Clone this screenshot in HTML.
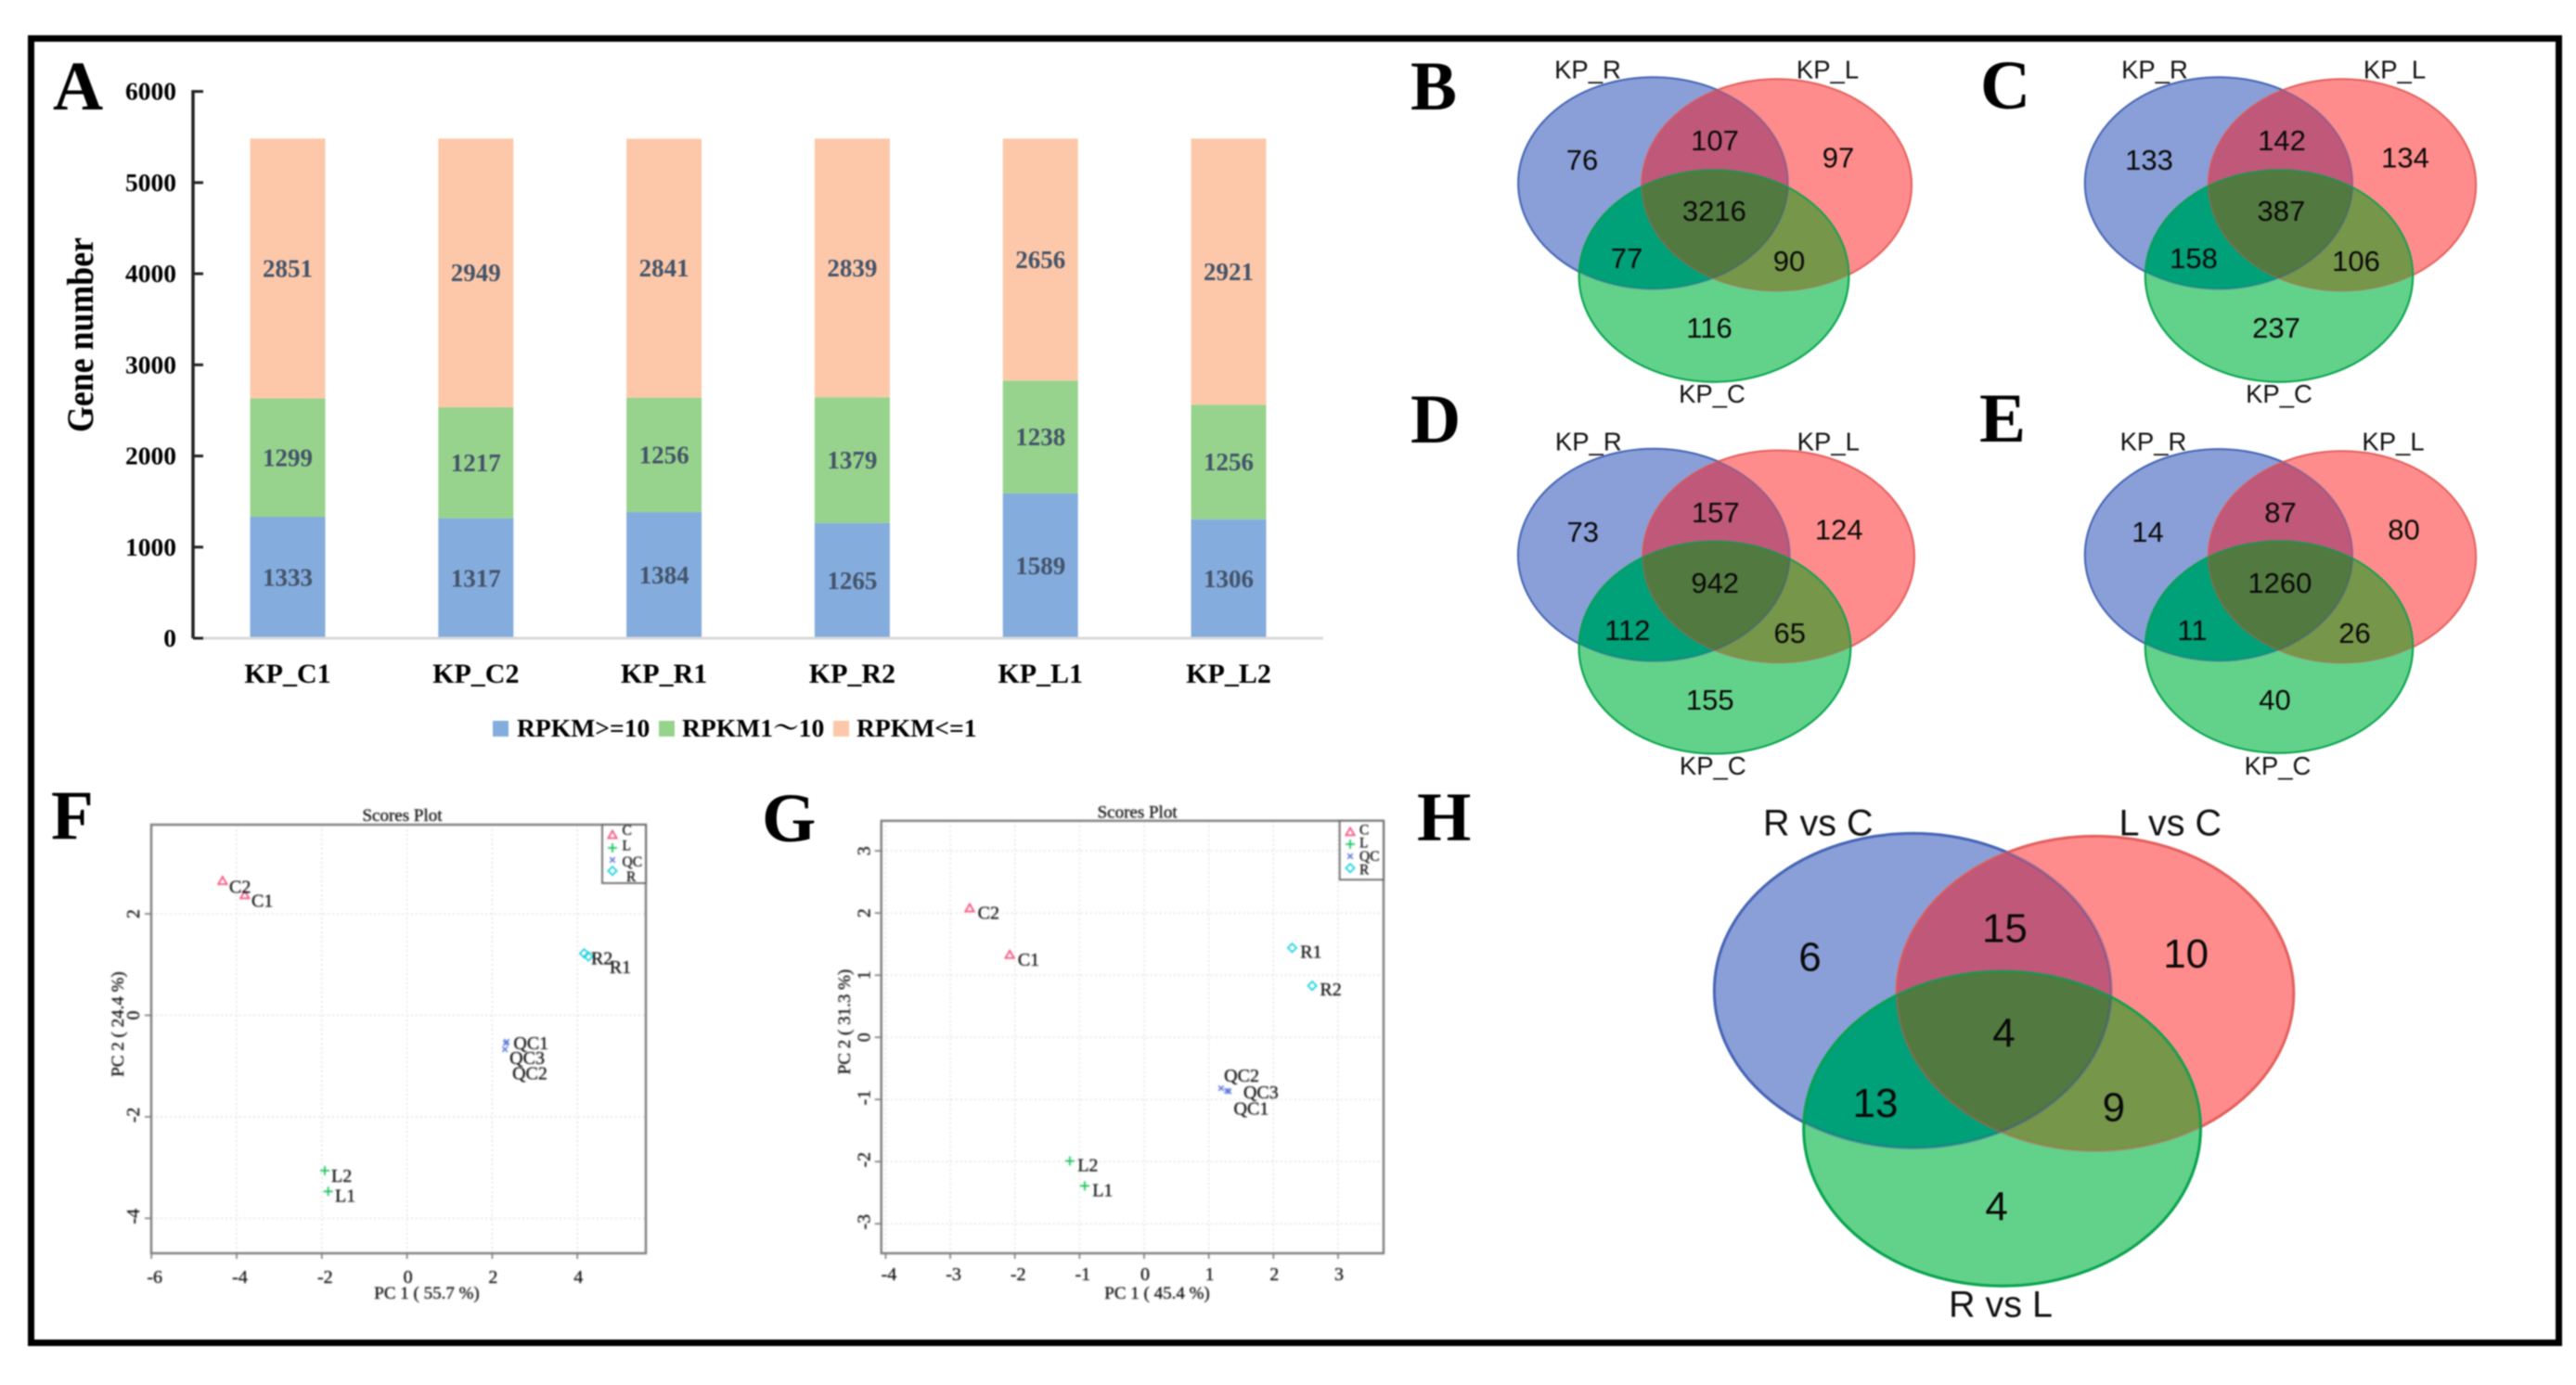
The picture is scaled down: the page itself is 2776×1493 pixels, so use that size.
<!DOCTYPE html>
<html lang="en">
<head>
<meta charset="utf-8">
<title>Gene expression, Venn diagrams and PCA score plots</title>
<style>
html,body{margin:0;padding:0;background:#fff;width:2776px;height:1493px;overflow:hidden}
#figure{display:block;filter:blur(0.7px)}
#panel-scatter{filter:blur(0.6px)}
text{font-family:"Liberation Serif","Noto Serif CJK SC",serif}
.sans{font-family:"Liberation Sans","Noto Sans CJK SC",sans-serif}
</style>
</head>
<body>
<svg id="figure" xmlns="http://www.w3.org/2000/svg" width="2776" height="1493" viewBox="0 0 2776 1493">
  <rect x="0" y="0" width="2776" height="1493" fill="#fff"/>
  <rect x="33.5" y="41.5" width="2724" height="1406" fill="none" stroke="#000" stroke-width="7"/>
  <defs id="defs"></defs>
  <text x="57" y="118" font-size="75" font-weight="bold">A</text>
  <text x="1520" y="118" font-size="75" font-weight="bold">B</text>
  <text x="2134" y="117" font-size="75" font-weight="bold">C</text>
  <text x="1520" y="477" font-size="75" font-weight="bold">D</text>
  <text x="2133" y="476" font-size="75" font-weight="bold">E</text>
  <text x="55" y="904" font-size="75" font-weight="bold">F</text>
  <text x="821" y="907" font-size="75" font-weight="bold">G</text>
  <text x="1527" y="906" font-size="75" font-weight="bold">H</text>
  <g id="panel-a"></g>
  <g id="panel-venn"></g>
  <g id="panel-scatter"></g>
</svg>
<script>
// ---- Panel A data ----
const barCategories = ['KP_C1','KP_C2','KP_R1','KP_R2','KP_L1','KP_L2'];
const rpkmHigh = [1333,1317,1384,1265,1589,1306];
const rpkmMid = [1299,1217,1256,1379,1238,1256];
const rpkmLow = [2851,2949,2841,2839,2656,2921];
const barYTicks = [0,1000,2000,3000,4000,5000,6000];
const barLegendLabels = ['RPKM>=10','RPKM1～10','RPKM<=1'];

// ---- Venn data: R only, R∩L, L only, all, R∩C, L∩C, C only ----
const vennCountsB = [76,107,97,3216,77,90,116];
const vennCountsC = [133,142,134,387,158,106,237];
const vennCountsD = [73,157,124,942,112,65,155];
const vennCountsE = [14,87,80,1260,11,26,40];
const vennCountsH = [6,15,10,4,13,9,4];
const vennSetsKP = ['KP_R','KP_L','KP_C'];
const vennSetsH = ['R vs C','L vs C','R vs L'];

// ---- Score plot data ----
const sampleNames = ['C1','C2','L1','L2','QC1','QC2','QC3','R1','R2'];
const sampleGroups = ['C','C','L','L','QC','QC','QC','R','R'];
const legendGroups = ['C','L','QC','R'];
const fPc1 = [-3.81,-4.33,-1.85,-1.93,2.34,2.32,2.30,4.26,4.16];
const fPc2 = [2.36,2.64,-3.47,-3.06,-0.52,-0.55,-0.67,1.16,1.22];
const fXTicks = [-6,-4,-2,0,2,4];
const fYTicks = [-4,-2,0,2];
const gPc1 = [-2.08,-2.70,-0.92,-1.15,1.28,1.19,1.31,2.29,2.60];
const gPc2 = [1.32,2.07,-2.39,-1.99,-0.86,-0.82,-0.87,1.44,0.83];
const gXTicks = [-4,-3,-2,-1,0,1,2,3];
const gYTicks = [-3,-2,-1,0,1,2,3];

const NS = 'http://www.w3.org/2000/svg';
function el(tag, attrs, parent, text) {
  const e = document.createElementNS(NS, tag);
  for (const k in attrs) e.setAttribute(k, attrs[k]);
  if (text !== undefined) e.textContent = text;
  parent.appendChild(e);
  return e;
}

// ================= Panel A =================
(function () {
  const root = document.getElementById('panel-a');
  const y = v => 688 - v * (589.4 / 6000);
  const x = i => 310 + i * 202.8;
  const barW = 81;
  const colors = ['#84acdd', '#97d38c', '#fdc8a9'];
  const layers = [rpkmHigh, rpkmMid, rpkmLow];
  const layerNames = ['high', 'mid', 'low'];

  barCategories.forEach((cat, i) => {
    let base = 0;
    layers.forEach((series, s) => {
      const v = series[i];
      const r = el('rect', {x: x(i) - barW / 2, y: y(base + v), width: barW, height: y(base) - y(base + v), fill: colors[s]}, root);
      
      
      const t = el('text', {x: x(i), y: y(base + v / 2) + 9, 'text-anchor': 'middle', 'font-size': 27, 'font-weight': 'bold', fill: '#44546a'}, root, String(v));
      
      
      base += v;
    });
    const xl = el('text', {x: x(i), y: 736, 'text-anchor': 'middle', 'font-size': 30, 'font-weight': 'bold'}, root, cat);
    
    
  });

  const baseLine = el('line', {x1: 208, x2: 1426, y1: y(0), y2: y(0), stroke: '#d9d9d9', 'stroke-width': 3}, root);
  
  
  const yLine = el('line', {x1: 208, x2: 208, y1: y(6000) - 1.5, y2: y(0), stroke: '#222', 'stroke-width': 3.5}, root);
  
  

  barYTicks.forEach(v => {
    const tick = el('line', {x1: 208, x2: 219, y1: y(v), y2: y(v), stroke: '#222', 'stroke-width': 3}, root);
    
    
    const lab = el('text', {x: 190, y: y(v) + 9, 'text-anchor': 'end', 'font-size': 27.5, 'font-weight': 'bold'}, root, String(v));
    
    
  });

  const yTitle = el('text', {x: 0, y: 0, transform: 'translate(100,361) rotate(-90)', 'text-anchor': 'middle', 'font-size': 40, 'font-weight': 'bold', textLength: 210, lengthAdjust: 'spacingAndGlyphs'}, root, 'Gene number');
  
  

  const legendSwatchX = [531, 710, 898];
  const legendTextX = [557, 735, 923];
  barLegendLabels.forEach((label, i) => {
    const sw = el('rect', {x: legendSwatchX[i], y: 777, width: 17, height: 17, fill: colors[i]}, root);
    
    
    const lt = el('text', {x: legendTextX[i], y: 794, 'font-size': 27.6, 'font-weight': 'bold'}, root, label);
    
    
  });
})();

// ================= Venn panels =================
(function () {
  const root = document.getElementById('panel-venn');
  const defs = document.getElementById('defs');
  // text anchor offsets from the blue ellipse centre at unit scale
  const regionDx = [-76.5, 66.5, 199.5, 65.9, -28.5, 146.5, 60.5];
  const regionDy = [-14.4, -35.4, -16.9, 40.6, 91.6, 94.6, 166.6];
  const setDx = [-70.5, 188, 63.5];
  const setDy = [-112.8, -112.8, 236.6];

  function venn(id, counts, sets, g) {
    const grp = el('g', {}, root);
    
    
    const shape = (c, extra) => Object.assign({cx: c[0], cy: c[1], rx: g.rx, ry: g.ry}, extra);

    const cb = el('clipPath', {id: 'clip-blue-' + id}, defs);
    el('ellipse', shape(g.b, {}), cb);
    const cr = el('clipPath', {id: 'clip-red-' + id}, defs);
    el('ellipse', shape(g.r, {}), cr);

    const fills = [
      [g.b, '#8a9fd8', '#4f73c6', 'set-r'], [g.r, '#ff8c8c', '#f26666', 'set-l'], [g.g, '#62d28a', '#0cb45c', 'set-c']
    ];
    fills.forEach(f => {
      const e = el('ellipse', shape(f[0], {fill: f[1], stroke: f[2], 'stroke-width': g.sw}), grp);
      
      
    });
    const rb = el('ellipse', shape(g.r, {fill: '#c0587a', 'clip-path': 'url(#clip-blue-' + id + ')'}), grp);
    
    
    const gb = el('ellipse', shape(g.g, {fill: '#00a078', 'clip-path': 'url(#clip-blue-' + id + ')'}), grp);
    
    
    const gr = el('ellipse', shape(g.g, {fill: '#76964a', 'clip-path': 'url(#clip-red-' + id + ')'}), grp);
    
    
    const inner = el('g', {'clip-path': 'url(#clip-blue-' + id + ')'}, grp);
    
    
    const ctr = el('ellipse', shape(g.g, {fill: '#52793f', 'clip-path': 'url(#clip-red-' + id + ')'}), inner);
    
    

    const strokes = [[g.b, '#3a4f9a', 0.4], [g.r, '#c85a50', 0.35], [g.g, '#0a9c4c', 0.7]];
    strokes.forEach(s => {
      const o = el('ellipse', shape(s[0], {fill: 'none', stroke: s[1], 'stroke-opacity': s[2], 'stroke-width': g.sw}), grp);
      
      
    });

    counts.forEach((n, i) => {
      const t = el('text', {class: 'sans', x: g.b[0] + g.tdx + regionDx[i] * g.sx, y: g.b[1] + regionDy[i] * g.sy, 'text-anchor': 'middle', 'font-size': g.fs, fill: '#0a0a0a'}, grp, String(n));
      
      
    });
    sets.forEach((s, i) => {
      const t = el('text', {class: 'sans', x: g.b[0] + g.tdx + setDx[i] * g.sx, y: g.b[1] + setDy[i] * g.sy, 'text-anchor': 'middle', 'font-size': g.ls, fill: '#111'}, grp, s);
      
      
    });
  }

  venn('b', vennCountsB, vennSetsKP, {b: [1781.5, 197.4], r: [1914.6, 199.5], g: [1847, 297.5], rx: 145.4, ry: 114.2, sx: 1, sy: 1, tdx: 0, fs: 31, ls: 27.5, sw: 2});
  venn('c', vennCountsC, vennSetsKP, {b: [2391, 197.4], r: [2524, 199.5], g: [2456, 297.5], rx: 144.2, ry: 114.2, sx: 1, sy: 1, tdx: 1.5, fs: 31, ls: 27.5, sw: 2});
  venn('d', vennCountsD, vennSetsKP, {b: [1782.3, 598.3], r: [1916.6, 600], g: [1847.9, 698], rx: 146.4, ry: 114.5, sx: 1, sy: 1, tdx: 0, fs: 31, ls: 27.5, sw: 2});
  venn('e', vennCountsE, vennSetsKP, {b: [2391, 598.3], r: [2524, 600.5], g: [2456, 697.5], rx: 144.2, ry: 114.2, sx: 1, sy: 1, tdx: 0, fs: 31, ls: 27.5, sw: 2});
  venn('h', vennCountsH, vennSetsH, {b: [2061.3, 1068], r: [2257.9, 1071], g: [2157.6, 1216.6], rx: 213.9, ry: 169.6, sx: 1.468, sy: 1.485, tdx: 1.5, fs: 44, ls: 39.5, sw: 3});
})();

// ================= Score plots =================
(function () {
  const root = document.getElementById('panel-scatter');
  const groupColor = {C: '#f4557f', L: '#1fc465', QC: '#5a78d8', R: '#22d3e0'};

  function marker(parent, group, px, py) {
    const c = groupColor[group];
    let m;
    if (group === 'C') {
      m = el('path', {d: 'M' + px + ' ' + (py - 5) + 'L' + (px + 4.6) + ' ' + (py + 3) + 'L' + (px - 4.6) + ' ' + (py + 3) + 'Z', fill: 'none', stroke: c, 'stroke-width': 1.8}, parent);
    } else if (group === 'L') {
      m = el('path', {d: 'M' + (px - 5) + ' ' + py + 'H' + (px + 5) + 'M' + px + ' ' + (py - 5) + 'V' + (py + 5), fill: 'none', stroke: c, 'stroke-width': 1.8}, parent);
    } else if (group === 'QC') {
      m = el('path', {d: 'M' + (px - 2.8) + ' ' + (py - 2.8) + 'L' + (px + 2.8) + ' ' + (py + 2.8) + 'M' + (px + 2.8) + ' ' + (py - 2.8) + 'L' + (px - 2.8) + ' ' + (py + 2.8), fill: 'none', stroke: c, 'stroke-width': 1.5}, parent);
    } else {
      m = el('path', {d: 'M' + px + ' ' + (py - 4.6) + 'L' + (px + 4.6) + ' ' + py + 'L' + px + ' ' + (py + 4.6) + 'L' + (px - 4.6) + ' ' + py + 'Z', fill: 'none', stroke: c, 'stroke-width': 1.8}, parent);
    }
    return m;
  }

  function scoresPlot(cfg) {
    const g = el('g', {}, root);
    
    
    const sx = v => cfg.x0 + v * cfg.ux;
    const sy = v => cfg.y0 - v * cfg.uy;
    const b = cfg.box;
    const ink = {fill: '#111', stroke: '#111', 'stroke-width': 0.3};

    cfg.xTicks.forEach(v => {
      const gl = el('line', {x1: sx(v), x2: sx(v), y1: b[1], y2: b[3], stroke: '#e2e2e2', 'stroke-width': 1.5, 'stroke-dasharray': '2 3'}, g);
      
      
      const tick = el('line', {x1: sx(v), x2: sx(v), y1: b[3], y2: b[3] + 6, stroke: '#777', 'stroke-width': 1.6}, g);
      
      
      const lab = el('text', Object.assign({x: sx(v) + (v < 0 ? 3.5 : 1), y: cfg.xLabelY, 'text-anchor': 'middle', 'font-size': 20}, ink), g, String(v));
      
      
    });
    cfg.yTicks.forEach(v => {
      const gl = el('line', {x1: b[0], x2: b[2], y1: sy(v), y2: sy(v), stroke: '#e2e2e2', 'stroke-width': 1.5, 'stroke-dasharray': '2 3'}, g);
      
      
      const tick = el('line', {x1: b[0] - 7, x2: b[0], y1: sy(v), y2: sy(v), stroke: '#777', 'stroke-width': 1.6}, g);
      
      
      const lab = el('text', Object.assign({x: 0, y: 0, transform: 'translate(' + cfg.yLabelX + ',' + (sy(v) - (v < 0 ? 2 : 0)) + ') rotate(-90)', 'text-anchor': 'middle', 'font-size': 20}, ink), g, String(v));
      
      
    });

    const frame = el('rect', {x: b[0], y: b[1], width: b[2] - b[0], height: b[3] - b[1], fill: 'none', stroke: '#7d7d7d', 'stroke-width': 2.4}, g);
    
    

    const title = el('text', Object.assign({x: cfg.titleX, y: cfg.titleY, 'text-anchor': 'middle', 'font-size': 19}, ink), g, 'Scores Plot');
    
    
    const xTitle = el('text', Object.assign({x: cfg.xTitleX, y: 1400, 'text-anchor': 'middle', 'font-size': 19}, ink), g, cfg.xTitle);
    
    
    const yTitle = el('text', Object.assign({x: 0, y: 0, transform: 'translate(' + cfg.yTitleX + ',' + cfg.yTitleY + ') rotate(-90)', 'text-anchor': 'middle', 'font-size': 19}, ink), g, cfg.yTitle);
    
    

    sampleNames.forEach((name, i) => {
      const px = sx(cfg.pc1[i]);
      const py = sy(cfg.pc2[i]);
      const m = marker(g, sampleGroups[i], px, py);
      
      
      const t = el('text', Object.assign({x: px + cfg.labelDx[i], y: py + cfg.labelDy[i], 'font-size': 20}, ink), g, name);
      
      
    });

    const lb = cfg.legend;
    const box = el('rect', {x: lb.x, y: b[1], width: b[2] - lb.x, height: lb.bottom - b[1], fill: '#fff', stroke: '#666', 'stroke-width': 1.8}, g);
    
    
    legendGroups.forEach((grp, i) => {
      const m = marker(g, grp, lb.markerX, lb.markerY[i]);
      
      
      const t = el('text', Object.assign({x: lb.textX[i], y: lb.textY[i], 'font-size': 15.5}, ink), g, grp);
      
      
    });
  }

  scoresPlot({
    id: 'f', pc1: fPc1, pc2: fPc2, xTicks: fXTicks, yTicks: fYTicks,
    box: [163, 889, 696, 1351], x0: 438.6, ux: 45.9, y0: 1094.5, uy: 54.7,
    xLabelY: 1383, yLabelX: 150,
    titleX: 433.5, titleY: 885, xTitle: 'PC 1 ( 55.7 %)', xTitleX: 460,
    yTitle: 'PC 2 ( 24.4 %)', yTitleX: 133, yTitleY: 1104,
    labelDx: [7.3, 7.2, 7.3, 7, 7.4, 7, 5, 22.7, 7.4],
    labelDy: [12.3, 12.3, 11.4, 11.9, 7.9, 38.8, 16, 18, 11.5],
    legend: {x: 649, bottom: 952, markerX: 660, markerY: [900.5, 914, 927, 938.7],
      textX: [670.5, 670.5, 670.5, 675], textY: [900, 916.5, 933.8, 950]}
  });

  scoresPlot({
    id: 'g', pc1: gPc1, pc2: gPc2, xTicks: gXTicks, yTicks: gYTicks,
    box: [949.7, 884.8, 1491, 1351], x0: 1233, ux: 69.65, y0: 1118.2, uy: 67,
    xLabelY: 1380, yLabelX: 937.7,
    titleX: 1225.6, titleY: 881.3, xTitle: 'PC 1 ( 45.4 %)', xTitleX: 1247,
    yTitle: 'PC 2 ( 31.3 %)', yTitleX: 916, yTitleY: 1101.5,
    labelDx: [8.7, 8.7, 8.3, 8.3, 7.4, 3.3, 15.7, 8.7, 8.3],
    labelDy: [11.2, 11.1, 11.1, 11.1, 25.6, -7, 7.6, 10.7, 10.3],
    legend: {x: 1443.7, bottom: 948.3, markerX: 1455, markerY: [897.4, 910, 923, 935.7],
      textX: [1465, 1465, 1465, 1465], textY: [899.3, 913.5, 928, 942.6]}
  });
})();
</script>
</body>
</html>
